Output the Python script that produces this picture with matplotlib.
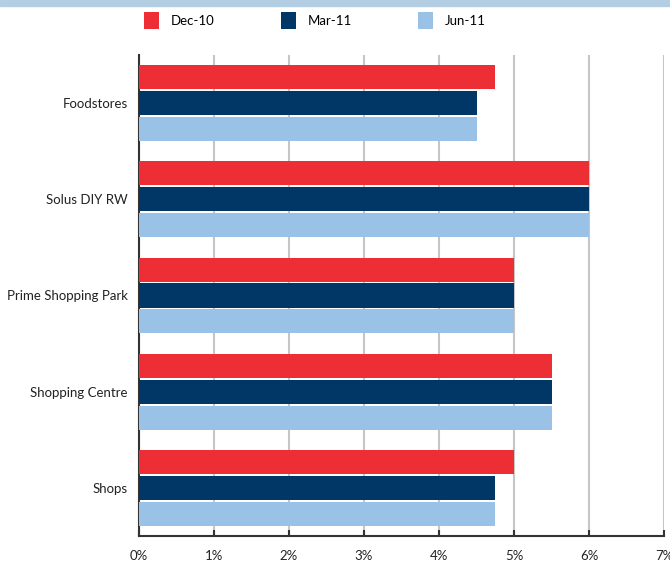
import numpy as np
import matplotlib.pyplot as plt
from matplotlib.patches import Patch, Rectangle

categories = ['Foodstores', 'Solus DIY RW', 'Prime Shopping Park', 'Shopping Centre', 'Shops']
series = ['Dec-10', 'Mar-11', 'Jun-11']
dec10 = [4.75, 6.0, 5.0, 5.5, 5.0]
mar11 = [4.5, 6.0, 5.0, 5.5, 4.75]
jun11 = [4.5, 6.0, 5.0, 5.5, 4.75]
xticks = [0, 1, 2, 3, 4, 5, 6, 7]

colors = ['#EE2E35', '#003767', '#99C2E6']

plt.rcParams['font.family'] = ['Lato', 'DejaVu Sans']

fig = plt.figure(figsize=(6.7, 5.63), dpi=100)
ax = fig.add_axes([139 / 670, 27 / 563, 525 / 670, 481 / 563])

# light blue strip along the top edge
fig.patches.append(Rectangle((0, 1 - 6 / 563), 1, 6 / 563, transform=fig.transFigure,
                             color='#B3CDE3', zorder=0))

y = np.arange(len(categories))
h = 0.25
step = 0.27
for i, (vals, c) in enumerate(zip([dec10, mar11, jun11], colors)):
    ax.barh(y + (i - 1) * step, vals, height=h, color=c, zorder=3)

ax.set_ylim(len(categories) - 0.5, -0.5)
ax.set_xlim(0, 7)
ax.set_yticks(y)
ax.set_yticklabels(categories, fontsize=9.5, color='#222222')
ax.set_xticks(xticks)
ax.set_xticklabels([f'{t}%' for t in xticks], fontsize=9.5, color='#222222')

ax.grid(axis='x', color='#C6C6C6', linewidth=1.5, zorder=0)
ax.set_axisbelow(True)
for s in ['top', 'right']:
    ax.spines[s].set_visible(False)
for s in ['left', 'bottom']:
    ax.spines[s].set_color('#333333')
    ax.spines[s].set_linewidth(1.5)
ax.tick_params(axis='y', length=0, pad=8)
ax.tick_params(axis='x', direction='in', length=4, width=1.5, color='#333333', pad=10)

handles = [Patch(facecolor=c, label=s) for c, s in zip(colors, series)]
fig.legend(handles=handles, loc='center left', bbox_to_anchor=(144 / 670, 0.964), ncol=3,
           frameon=False, fontsize=9.5, handlelength=1.15, handleheight=1.6,
           handletextpad=0.9, columnspacing=5.0, borderpad=0, borderaxespad=0)

fig.savefig('out.png', dpi=100)
